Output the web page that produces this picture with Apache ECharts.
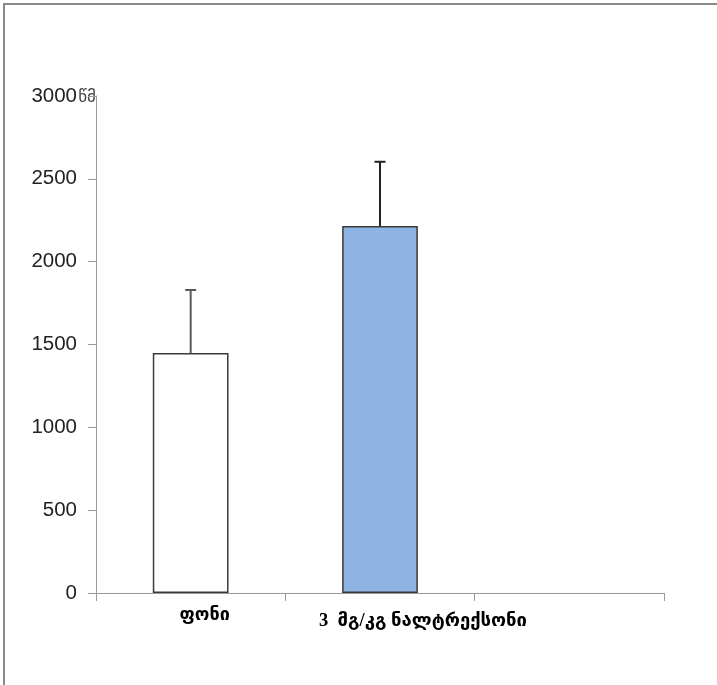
<!DOCTYPE html>
<html>
<head>
<meta charset="utf-8">
<script src="https://cdn.jsdelivr.net/npm/echarts@6/dist/echarts.min.js"></script>
<style>
html,body{margin:0;padding:0;background:#fff;}
#chart{position:absolute;left:0;top:0;width:717px;height:685px;}
#frame{position:absolute;left:3px;top:3px;width:714px;height:682px;border-top:2px solid #8a8a8a;border-left:2px solid #8a8a8a;pointer-events:none;box-sizing:border-box;}
</style>
</head>
<body>
<div id="chart"></div>
<div id="frame"></div>
<script>
var categories = ['ფონი', '3  მგ/კგ ნალტრექსონი', ''];
var values = [1448, 2215, null];
var errors = [381, 388, null];
var yTicks = { min: 0, max: 3000, interval: 500 };
var yUnit = 'წმ';

var chart = echarts.init(document.getElementById('chart'), null, {renderer: 'canvas'});

var errData = [];
for (var i = 0; i < values.length; i++) {
  if (values[i] != null) errData.push([i, values[i], values[i] + errors[i]]);
}

chart.setOption({
  animation: false,
  backgroundColor: 'transparent',
  grid: { left: 96, right: 53, top: 96, bottom: 92, containLabel: false },
  xAxis: {
    type: 'category',
    data: categories,
    boundaryGap: true,
    axisLine: { show: true, lineStyle: { color: '#9a9a9a', width: 1 } },
    axisTick: { show: true, length: 8, alignWithLabel: false, lineStyle: { color: '#9a9a9a' } },
    axisLabel: {
      margin: 13,
      interval: 0,
      formatter: function (v, i) {
        if (i === 0) return '{a|' + v + '}';
        if (i === 1) return '{b|' + v + '}';
        return '';
      },
      rich: {
        a: { fontFamily: 'DejaVu Sans', fontWeight: 'bold', fontSize: 18, color: '#000', padding: [0, 0, 0, 28] },
        b: { fontFamily: 'Liberation Serif, DejaVu Sans', fontWeight: 'bold', fontSize: 18.5, color: '#000', padding: [6, 0, 0, 86] }
      }
    },
    splitLine: { show: false }
  },
  yAxis: {
    type: 'value',
    min: yTicks.min, max: yTicks.max, interval: yTicks.interval,
    name: yUnit,
    nameLocation: 'end',
    nameGap: -2,
    nameMoveOverlap: false,
    nameTextStyle: { fontFamily: 'DejaVu Sans', fontSize: 17, color: '#444', align: 'right', verticalAlign: 'middle', padding: [0, 0, 0, 0] },
    axisLine: { show: true, lineStyle: { color: '#9a9a9a', width: 1 } },
    axisTick: { show: true, length: 8, lineStyle: { color: '#9a9a9a' } },
    axisLabel: {
      margin: 19, fontFamily: 'Liberation Sans', fontSize: 20.5, color: '#222',
      formatter: function (v) { return String(v); }
    },
    splitLine: { show: false }
  },
  series: [
    {
      type: 'bar',
      barWidth: '40%',
      data: values.map(function (v, i) {
        return {
          value: v,
          itemStyle: i === 0
            ? { color: '#ffffff', borderColor: '#3a3a3a', borderWidth: 1.5 }
            : { color: '#8EB4E3', borderColor: '#3a3a3a', borderWidth: 1.5 }
        };
      }),
      z: 2
    },
    {
      type: 'custom',
      data: errData,
      z: 3,
      renderItem: function (params, api) {
        var x = api.value(0);
        var lo = api.coord([x, api.value(1)]);
        var hi = api.coord([x, api.value(2)]);
        var color = x === 0 ? '#5a5a5a' : '#222';
        var style = { stroke: color, lineWidth: 2 };
        return {
          type: 'group',
          children: [
            { type: 'line', shape: { x1: lo[0], y1: lo[1], x2: hi[0], y2: hi[1] }, style: style },
            { type: 'line', shape: { x1: hi[0] - 5.5, y1: hi[1], x2: hi[0] + 5.5, y2: hi[1] }, style: style }
          ]
        };
      }
    }
  ]
});
</script>
</body>
</html>
